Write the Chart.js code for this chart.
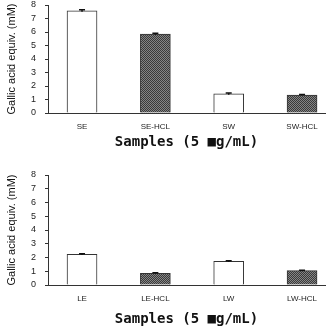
<!DOCTYPE html>
<html>
<head>
<meta charset="utf-8">
<script src="https://cdn.jsdelivr.net/npm/chart.js@4"></script>
<style>
  html, body { margin: 0; padding: 0; background: #fff; }
  .box { width: 329px; height: 164px; position: relative; }
</style>
</head>
<body>
<div class="box" style="height:165px"><canvas id="topChart"></canvas></div>
<div class="box"><canvas id="bottomChart"></canvas></div>
<script>
// data
const topCategories = ["SE", "SE-HCL", "SW", "SW-HCL"];
const topValues = [7.57, 5.85, 1.42, 1.33];
const topErrors = [0.07, 0.05, 0.06, 0.04];

const bottomCategories = ["LE", "LE-HCL", "LW", "LW-HCL"];
const bottomValues = [2.23, 0.85, 1.72, 1.05];
const bottomErrors = [0.05, 0.04, 0.05, 0.03];

const yTicks = [0, 1, 2, 3, 4, 5, 6, 7, 8];
const yTitle = "Gallic acid equiv. (mM)";
const xTitle = "Samples (5 \u25A0g/mL)";

// hatched fill for the HCL bars
function makeHatch() {
  const c = document.createElement("canvas");
  c.width = 2;
  c.height = 2;
  const g = c.getContext("2d");
  g.fillStyle = "#858585";
  g.fillRect(0, 0, 2, 2);
  g.fillStyle = "#3a3a3a";
  g.fillRect(0, 0, 1, 1);
  g.fillRect(1, 1, 1, 1);
  return g.createPattern(c, "repeat");
}
const hatch = makeHatch();

const errorBars = {
  id: "errorBars",
  afterDatasetsDraw(chart) {
    const ctx = chart.ctx;
    const y = chart.scales.y;
    const meta = chart.getDatasetMeta(0);
    const errs = chart.options.plugins.errorBars.errors;
    ctx.save();
    ctx.strokeStyle = "#111";
    ctx.lineWidth = 1.5;
    meta.data.forEach((bar, i) => {
      const v = chart.data.datasets[0].data[i].y;
      const top = y.getPixelForValue(v + errs[i]);
      const bot = y.getPixelForValue(v - errs[i]);
      ctx.beginPath();
      ctx.moveTo(bar.x, top);
      ctx.lineTo(bar.x, bot);
      ctx.moveTo(bar.x - 3, top);
      ctx.lineTo(bar.x + 3, top);
      ctx.stroke();
    });
    ctx.restore();
  },
};

function makeChart(id, categories, values, errors, padTop, xHeight, titlePadBottom) {
  const ctx = document.getElementById(id).getContext("2d");
  return new Chart(ctx, {
    type: "bar",
    data: {
      datasets: [
        {
          data: values.map((v, i) => ({ x: i, y: v })),
          backgroundColor: values.map((v, i) => (i % 2 ? hatch : "#ffffff")),
          borderColor: "#333",
          borderWidth: 1,
          borderSkipped: "bottom",
          barThickness: 30,
        },
      ],
    },
    options: {
      responsive: true,
      maintainAspectRatio: false,
      animation: false,
      layout: { padding: { top: padTop, right: 4, left: 0, bottom: 0 } },
      plugins: {
        legend: { display: false },
        tooltip: { enabled: false },
        errorBars: { errors: errors },
      },
      scales: {
        x: {
          type: "linear",
          offset: false,
          min: -0.464,
          max: 3.313,
          afterFit: (s) => {
            s.height = xHeight;
            s.paddingLeft = 0;
            s.paddingRight = 0;
          },
          grid: { display: false, drawTicks: false },
          border: { color: "#333", width: 1 },
          ticks: {
            stepSize: 1,
            includeBounds: false,
            autoSkip: false,
            maxRotation: 0,
            padding: 9,
            color: "#222",
            font: { family: "Liberation Sans", size: 8 },
            callback: (v) => (Number.isInteger(v) ? categories[v] : ""),
          },
          title: {
            display: true,
            text: xTitle,
            color: "#111",
            padding: { top: 4, bottom: titlePadBottom },
            font: { family: "DejaVu Sans Mono", size: 14, weight: "bold" },
          },
        },
        y: {
          min: 0,
          max: 8,
          afterFit: (s) => {
            s.width = 48;
            s.paddingTop = 0;
            s.paddingBottom = 0;
          },
          afterBuildTicks: (s) => { s.ticks = yTicks.map((v) => ({ value: v })); },
          grid: { drawOnChartArea: false, tickLength: 3, color: "#333" },
          border: { color: "#333", width: 1 },
          ticks: {
            autoSkip: false,
            padding: 9,
            color: "#222",
            font: { family: "Liberation Sans", size: 9 },
          },
          title: {
            display: true,
            text: yTitle,
            color: "#111",
            padding: { top: 5, bottom: 2 },
            font: { family: "Liberation Sans", size: 11 },
          },
        },
      },
    },
    plugins: [errorBars],
  });
}

makeChart("topChart", topCategories, topValues, topErrors, 5, 52, 14);
makeChart("bottomChart", bottomCategories, bottomValues, bottomErrors, 10, 44, 1);
</script>
</body>
</html>
